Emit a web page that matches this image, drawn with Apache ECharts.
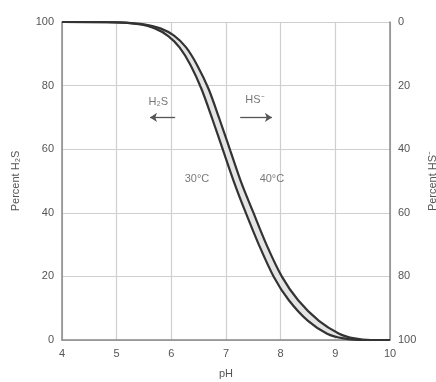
<!DOCTYPE html>
<html>
<head>
<meta charset="utf-8">
<script src="https://cdn.jsdelivr.net/npm/echarts@6/dist/echarts.min.js"></script>
<style>
  html, body { margin: 0; padding: 0; background: #fff; }
  #chart { width: 436px; height: 382px; }
</style>
</head>
<body>
<div id="chart"></div>
<script>
// curves: [pH, percent H2S]
var curve30 = [
  [4, 100], [5, 99.9], [5.4, 99.3], [5.7, 98], [5.95, 95.5], [6.15, 92],
  [6.35, 86.5], [6.55, 79], [6.75, 69.5], [6.95, 59.5], [7.15, 49.5], [7.35, 40.5],
  [7.6, 30], [7.87, 20], [8.15, 12.5], [8.5, 6], [8.85, 2], [9.15, 0.5], [9.5, 0], [10, 0]
];
var curve40 = [
  [4, 100], [5, 99.9], [5.5, 99.3], [5.8, 98], [6.05, 95.7], [6.27, 92],
  [6.47, 86.5], [6.68, 79], [6.88, 69.5], [7.08, 59.5], [7.28, 49.5], [7.49, 40.5],
  [7.74, 30], [8.02, 20], [8.32, 12.5], [8.7, 6], [9.07, 2], [9.35, 0.5], [9.65, 0], [10, 0]
];

// annotation labels: [pH, percent, text]
var notes = [
  [5.76, 75, 'H\u2082S'],
  [7.53, 75.5, 'HS\u207B'],
  [6.47, 50.5, '30\u00B0C'],
  [7.84, 50.5, '40\u00B0C']
];
// arrows: [fromPH, toPH, percent]
var arrows = [
  [6.07, 5.61, 70],
  [7.26, 7.84, 70]
];

var txt = '#555';
var font = 'Liberation Sans';

var chart = echarts.init(document.getElementById('chart'));
chart.setOption({
  animation: false,
  grid: { left: 62, right: 46, top: 22, bottom: 42, outerBoundsMode: 'none' },
  xAxis: {
    type: 'value', min: 4, max: 10, interval: 1,
    name: 'pH', nameLocation: 'middle', nameGap: 28,
    nameTextStyle: { color: txt, fontSize: 11, fontFamily: font },
    axisLine: { show: true, lineStyle: { color: '#888', width: 1.5 } },
    axisTick: { show: false },
    axisLabel: { color: txt, fontSize: 11, fontFamily: font, margin: 8 },
    splitLine: { show: true, lineStyle: { color: '#cfcfcf', width: 1.2 } }
  },
  yAxis: [
    {
      type: 'value', min: 0, max: 100, interval: 20,
      name: 'Percent H\u2082S', nameLocation: 'middle', nameGap: 41, nameRotate: 90,
      nameTextStyle: { color: txt, fontSize: 11, fontFamily: font },
      axisLine: { show: true, lineStyle: { color: '#888', width: 1.5 } },
      axisTick: { show: false },
      axisLabel: { color: txt, fontSize: 11, fontFamily: font, margin: 8 },
      splitLine: { show: true, lineStyle: { color: '#cfcfcf', width: 1.2 } }
    },
    {
      type: 'value', min: 0, max: 100, interval: 20, inverse: true, position: 'right',
      name: 'Percent HS\u207B', nameLocation: 'middle', nameGap: 32, nameRotate: 90,
      nameTextStyle: { color: txt, fontSize: 11, fontFamily: font },
      axisLine: { show: true, lineStyle: { color: '#888', width: 1.5 } },
      axisTick: { show: false },
      axisLabel: { color: txt, fontSize: 11, fontFamily: font, margin: 8 },
      splitLine: { show: false }
    }
  ],
  series: [
    {
      // light band between the two temperature curves
      type: 'custom', silent: true, z: 1, data: [0],
      renderItem: function (params, api) {
        var pts = curve30.map(function (d) { return api.coord(d); })
          .concat(curve40.slice().reverse().map(function (d) { return api.coord(d); }));
        return { type: 'polygon', shape: { points: pts, smooth: 0.2 }, style: { fill: '#e4e4e4' } };
      }
    },
    {
      name: '30\u00B0C', type: 'line', data: curve30, smooth: 0.3, z: 3,
      showSymbol: false, lineStyle: { color: '#333', width: 2.2 }
    },
    {
      name: '40\u00B0C', type: 'line', data: curve40, smooth: 0.3, z: 3,
      showSymbol: false, lineStyle: { color: '#333', width: 2.2 }
    },
    {
      type: 'scatter', symbolSize: 0, silent: true,
      data: notes.map(function (n) { return [n[0], n[1], n[2]]; }),
      label: {
        show: true, position: 'inside', color: txt, fontSize: 11, fontFamily: font,
        formatter: function (p) { return p.value[2]; }
      },
      markLine: {
        silent: true, symbol: ['none', 'arrow'], symbolSize: 7,
        label: { show: false },
        lineStyle: { color: '#555', width: 1.3, type: 'solid' },
        data: arrows.map(function (a) {
          return [{ coord: [a[0], a[2]] }, { coord: [a[1], a[2]] }];
        })
      }
    }
  ]
});
</script>
</body>
</html>
